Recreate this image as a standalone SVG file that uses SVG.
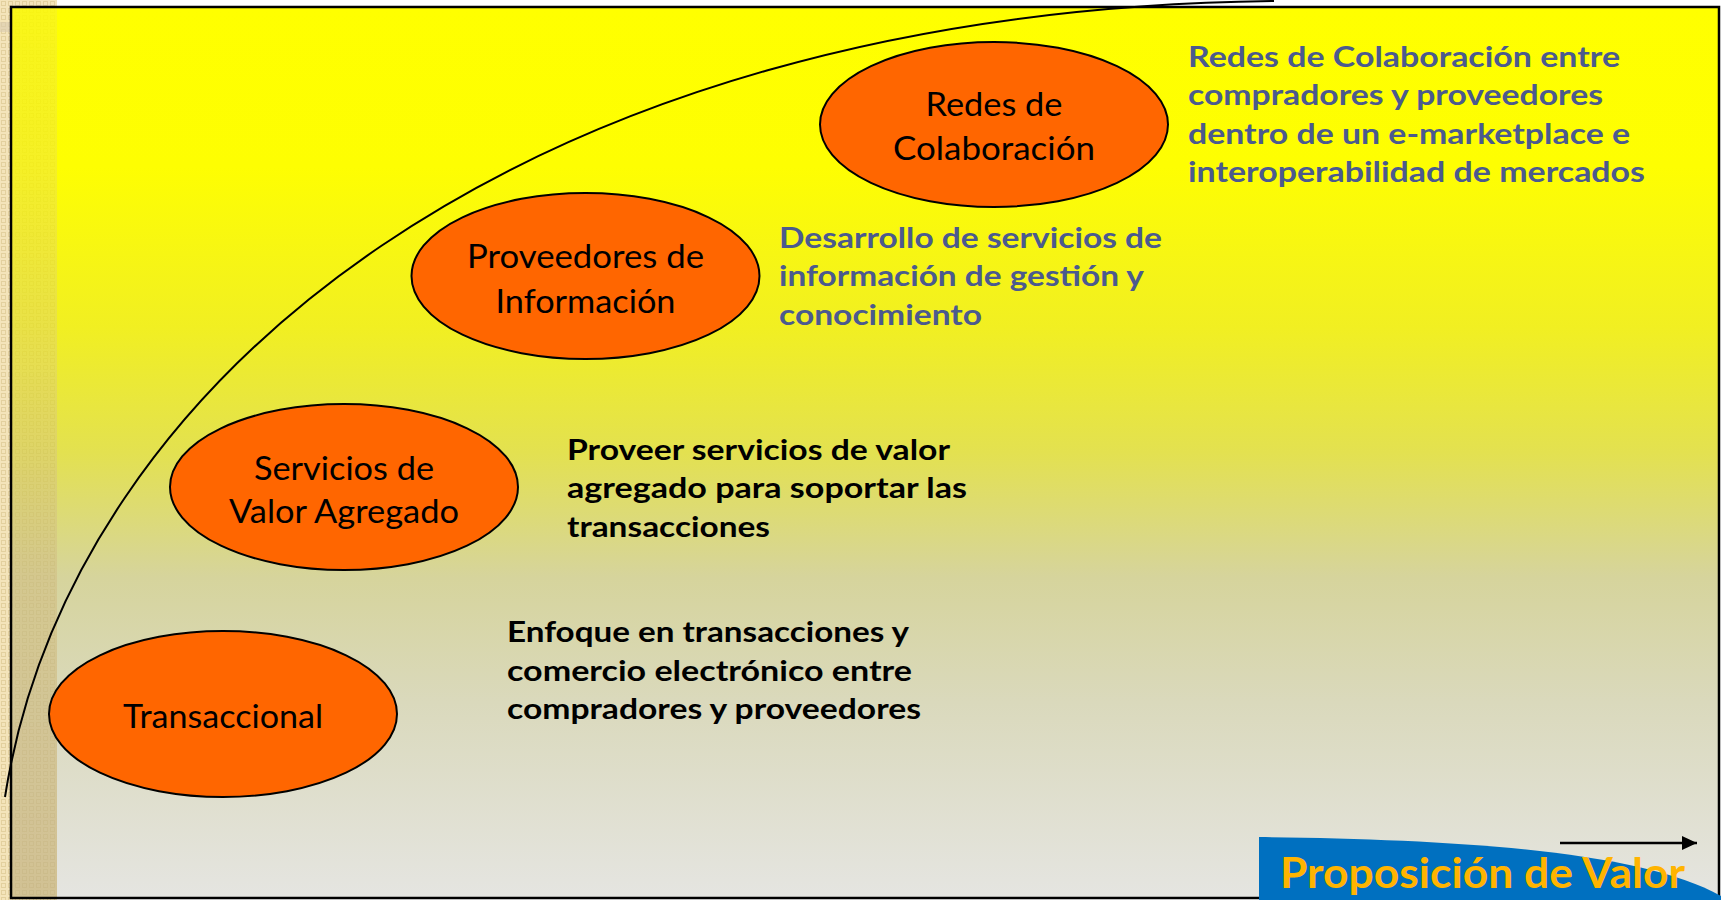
<svg xmlns="http://www.w3.org/2000/svg" width="1721" height="900" viewBox="0 0 1721 900">
<defs>
  <linearGradient id="bg" x1="0" y1="7" x2="0" y2="898" gradientUnits="userSpaceOnUse">
    <stop offset="0" stop-color="#FFFF00"/>
    <stop offset="0.18" stop-color="#FEFE02"/>
    <stop offset="0.36" stop-color="#F1EF22"/>
    <stop offset="0.5" stop-color="#E3E150"/>
    <stop offset="0.64" stop-color="#D6D49C"/>
    <stop offset="0.78" stop-color="#DAD9BC"/>
    <stop offset="1" stop-color="#E5E5E1"/>
  </linearGradient>
  <linearGradient id="strip" x1="0" y1="7" x2="0" y2="898" gradientUnits="userSpaceOnUse">
    <stop offset="0" stop-color="#A88C3C" stop-opacity="0.05"/>
    <stop offset="0.4" stop-color="#A88C3C" stop-opacity="0.12"/>
    <stop offset="1" stop-color="#A88C3C" stop-opacity="0.4"/>
  </linearGradient>
  <linearGradient id="mg" x1="0" y1="7" x2="0" y2="898" gradientUnits="userSpaceOnUse">
    <stop offset="0" stop-color="#fff" stop-opacity="0.12"/>
    <stop offset="1" stop-color="#fff" stop-opacity="0.5"/>
  </linearGradient>
  <mask id="stripMask" maskUnits="userSpaceOnUse" x="11" y="7" width="46" height="891">
    <rect x="11" y="7" width="46" height="891" fill="url(#mg)"/>
  </mask>
  <pattern id="chk" width="7" height="7" patternUnits="userSpaceOnUse">
    <rect width="7" height="7" fill="#F4E4BA"/>
    <rect x="1.5" y="1.5" width="4" height="4" fill="none" stroke="#E3D09E" stroke-width="1"/>
  </pattern>
  <marker id="arr" markerUnits="userSpaceOnUse" markerWidth="16" markerHeight="16" refX="15" refY="7" orient="auto">
    <path d="M0,0 L15,7 L0,14 Z" fill="#000"/>
  </marker>
</defs>
<style>
  .node ellipse { fill:#FF6600; stroke:#000; stroke-width:2; }
  .lbl { font-family: Lato, "Open Sans", "DejaVu Sans", sans-serif; font-size:33px; fill:#000; text-anchor:middle; }
  .desc { font-family: Lato, "Open Sans", "DejaVu Sans", sans-serif; font-weight:bold; font-size:29px; }
  .dk { fill:#000; }
  .bl { fill:#4B5A8E; }
</style>

<rect width="1721" height="900" fill="#FFFFFF"/>
<rect x="0" y="0" width="57" height="900" fill="url(#chk)"/>
<rect x="0" y="22" width="11" height="10" fill="#D9CCB0" opacity="0.6"/>
<rect x="11" y="7" width="1708" height="891" fill="url(#bg)"/>
<rect x="11" y="7" width="46" height="891" fill="url(#chk)" mask="url(#stripMask)"/>
<rect x="11" y="7" width="46" height="891" fill="url(#strip)"/>
<rect x="11" y="7" width="1708" height="891" fill="none" stroke="#000" stroke-width="2.5"/>

<g id="connectors">
  <path id="curve" d="M5,797 C70,380 520,10 1274,1" fill="none" stroke="#000" stroke-width="2"/>
</g>

<g id="node-transaccional" class="node">
  <ellipse cx="223" cy="714" rx="174" ry="83"/>
  <text class="lbl" x="223" y="728" textLength="200" lengthAdjust="spacingAndGlyphs">Transaccional</text>
</g>
<g id="node-servicios" class="node">
  <ellipse cx="344" cy="487" rx="174" ry="83"/>
  <text class="lbl" x="344" y="480" textLength="180" lengthAdjust="spacingAndGlyphs">Servicios de</text>
  <text class="lbl" x="344" y="523" textLength="230" lengthAdjust="spacingAndGlyphs">Valor Agregado</text>
</g>
<g id="node-proveedores" class="node">
  <ellipse cx="585.5" cy="276" rx="174" ry="83"/>
  <text class="lbl" x="585.5" y="268" textLength="237" lengthAdjust="spacingAndGlyphs">Proveedores de</text>
  <text class="lbl" x="585.5" y="313" textLength="180" lengthAdjust="spacingAndGlyphs">Información</text>
</g>
<g id="node-redes" class="node">
  <ellipse cx="994" cy="124.5" rx="174" ry="82.5"/>
  <text class="lbl" x="994" y="116" textLength="137" lengthAdjust="spacingAndGlyphs">Redes de</text>
  <text class="lbl" x="994" y="160" textLength="202" lengthAdjust="spacingAndGlyphs">Colaboración</text>
</g>

<g id="desc-transaccional" class="desc dk">
  <text x="507" y="642" textLength="402" lengthAdjust="spacingAndGlyphs">Enfoque en transacciones y</text>
  <text x="507" y="681" textLength="405" lengthAdjust="spacingAndGlyphs">comercio electrónico entre</text>
  <text x="507" y="719" textLength="414" lengthAdjust="spacingAndGlyphs">compradores y proveedores</text>
</g>
<g id="desc-servicios" class="desc dk">
  <text x="567" y="460" textLength="383" lengthAdjust="spacingAndGlyphs">Proveer servicios de valor</text>
  <text x="567" y="498" textLength="400" lengthAdjust="spacingAndGlyphs">agregado para soportar las</text>
  <text x="567" y="537" textLength="203" lengthAdjust="spacingAndGlyphs">transacciones</text>
</g>
<g id="desc-proveedores" class="desc bl">
  <text x="779" y="248" textLength="383" lengthAdjust="spacingAndGlyphs">Desarrollo de servicios de</text>
  <text x="779" y="286" textLength="365" lengthAdjust="spacingAndGlyphs">información de gestión y</text>
  <text x="779" y="325" textLength="203" lengthAdjust="spacingAndGlyphs">conocimiento</text>
</g>
<g id="desc-redes" class="desc bl">
  <text x="1188" y="67" textLength="432" lengthAdjust="spacingAndGlyphs">Redes de Colaboración entre</text>
  <text x="1188" y="105" textLength="415" lengthAdjust="spacingAndGlyphs">compradores y proveedores</text>
  <text x="1188" y="144" textLength="442" lengthAdjust="spacingAndGlyphs">dentro de un e-marketplace e</text>
  <text x="1188" y="182" textLength="457" lengthAdjust="spacingAndGlyphs">interoperabilidad de mercados</text>
</g>

<g id="axis-label">
  <path d="M1259,900 L1259,837 C1450,839 1640,850 1721,896 L1721,900 Z" fill="#0070C0"/>
  <text x="1280" y="888" font-family="Lato, 'Open Sans', sans-serif" font-weight="bold" font-size="42" fill="#FFB400" textLength="405" lengthAdjust="spacingAndGlyphs">Proposición de Valor</text>
  <line x1="1560" y1="843" x2="1697" y2="843" stroke="#000" stroke-width="2.5" marker-end="url(#arr)"/>
</g>
</svg>
